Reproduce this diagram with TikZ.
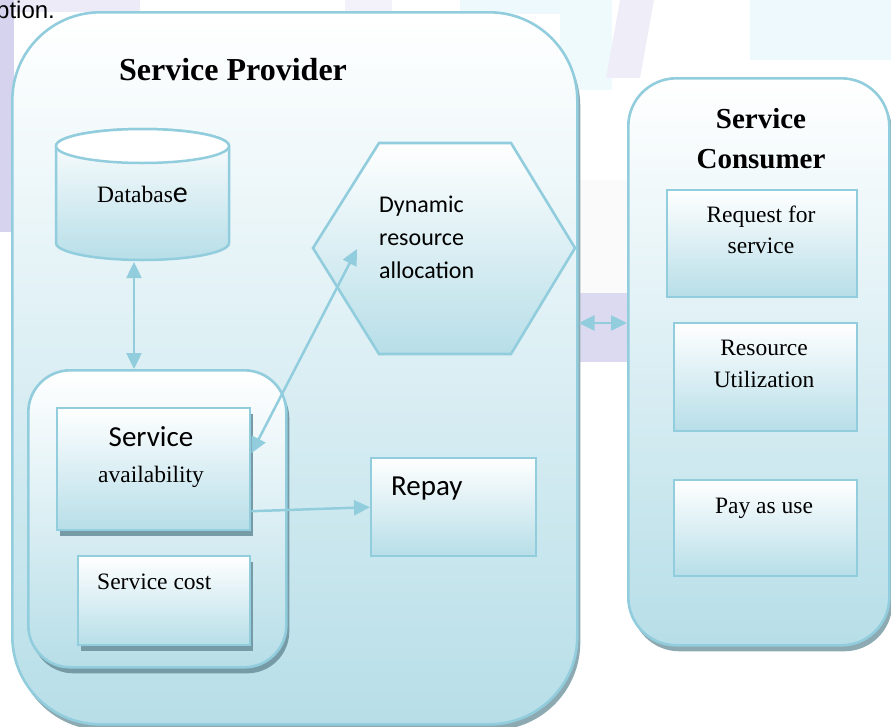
\documentclass[tikz,border=0pt]{standalone}
\usepackage{fontspec}
\setmainfont{Liberation Serif}
\newfontfamily\calibri{Carlito}
\newfontfamily\arial{Liberation Sans}
\usetikzlibrary{arrows.meta}

\definecolor{edgeblue}{RGB}{146,205,221}
\definecolor{deepfill}{RGB}{183,222,232}
\definecolor{panelshadow}{RGB}{141,170,178}
\definecolor{boxshadow}{RGB}{118,155,166}
\definecolor{lavender}{RGB}{214,211,238}
\definecolor{paleaqua}{RGB}{214,242,250}

\newcommand\serifbody{\fontsize{23.5}{28}\selectfont}
\newcommand\calbody{\calibri\fontsize{24}{29}\selectfont}
\newcommand\calbig{\calibri\fontsize{29}{34}\selectfont}

\begin{document}
\begin{tikzpicture}[x=1pt,y=-1pt,
  panel/.style={draw=edgeblue, line width=2.6pt, top color=white, bottom color=deepfill},
  plate/.style={panel, line width=2.4pt, rectangle, inner sep=0pt, anchor=north west},
  castshadow/.style={preaction={fill=#1, transform canvas={xshift=3pt, yshift=-6pt}}},
  castshadow/.default=panelshadow,
  link/.style={draw=edgeblue, line width=2.5pt, >={Triangle[length=16pt,width=15pt]}},
  lbl/.style={inner sep=0pt, anchor=base},
  lblw/.style={inner sep=0pt, anchor=base west},
]
\useasboundingbox (0,0) rectangle (891,726);

% faint backdrop
\fill[lavender] (0,0) rectangle (14,232);
\fill[lavender!45] (14,0) rectangle (140,12);
\fill[lavender!30] (345,0) rectangle (392,12);
\fill[paleaqua!45] (460,0) rectangle (570,14);
\fill[paleaqua!40] (560,0) rectangle (612,90);
\fill[lavender!40] (620,0) -- (654,0) -- (640,78) -- (606,78) -- cycle;
\fill[paleaqua!45] (750,0) rectangle (891,60);
\fill[black!2] (578,180) rectangle (627,293);
\fill[lavender!85] (578,293) rectangle (627,362);

% top-left fragment of running text
\node[lblw, font=\arial\fontsize{24}{28}\selectfont] (runtext) at (-4,18) {ption.};

% provider panel
\node[panel, castshadow, rectangle, rounded corners=88pt, inner sep=0pt,
      minimum width=565pt, minimum height=712pt, anchor=north west]
      (provider) at (11,11) {};
% consumer panel
\node[panel, castshadow, rectangle, rounded corners=48pt, inner sep=0pt,
      minimum width=261pt, minimum height=567pt, anchor=north west]
      (consumer) at (627,77) {};

% database cylinder
\shade[top color=white, bottom color=deepfill, draw=edgeblue, line width=2.5pt]
  (56,146) -- (56,243) arc[start angle=180, end angle=0, x radius=86.5, y radius=17]
  -- (229,146) arc[start angle=0, end angle=-180, x radius=86.5, y radius=17] -- cycle;
\draw[edgeblue, line width=2.5pt, fill=white] (142.5,146) ellipse[x radius=86.5, y radius=17];
\coordinate (dbfoot) at (134,262);
\node[lblw, font=\serifbody] (dblabel) at (97,202) {Databas{\calibri\fontsize{30}{34}\selectfont e}};

% service group
\node[panel, castshadow=boxshadow, rectangle, rounded corners=42pt, inner sep=0pt,
      minimum width=258pt, minimum height=297pt, anchor=north west]
      (group) at (27,369) {};
\node[plate, castshadow=boxshadow, minimum width=193pt, minimum height=122pt] (avail) at (56,407) {};
\node[plate, castshadow=boxshadow, minimum width=172pt, minimum height=89pt] (cost) at (77,555) {};

% hexagon
\shade[panel] (379,143) coordinate (hexnw) -- (511,143) -- (575,248) coordinate (hexe)
  -- (511,354) -- (379,354) -- (313,248) coordinate (hexw) -- cycle;
\coordinate (hexin) at (357,249);

% repay
\node[plate, minimum width=165pt, minimum height=98pt] (repay) at (370,457) {};

% consumer boxes
\node[plate, minimum width=190pt, minimum height=107pt] (request) at (666,189) {};
\node[plate, minimum width=183pt, minimum height=108pt] (usage) at (673,322) {};
\node[plate, minimum width=183pt, minimum height=96pt] (payuse) at (673,479) {};

% connectors
\draw[link, <->] (dbfoot) -- (dbfoot |- group.north);
\draw[link, <->] ([yshift=16pt]avail.east) -- (hexin);
\draw[link, ->] ([yshift=-42pt]avail.east) -- (repay.west);
\coordinate (bridge) at (602,323);
\draw[link, <->] (bridge -| provider.east) -- (bridge -| consumer.west);

% labels
\node[lbl, font=\bfseries\fontsize{32}{36}\selectfont] (provtitle) at (233,80) {Service Provider};
\node[lbl, font=\bfseries\fontsize{29}{34}\selectfont] (constitle1) at (761,128) {Service};
\node[lbl, font=\bfseries\fontsize{29}{34}\selectfont] (constitle2) at (761,168) {Consumer};

\node[lblw, font=\calbody] (hexl1) at (379,212) {Dynamic};
\node[lblw, font=\calbody] (hexl2) at (379,245) {resource};
\node[lblw, font=\calbody] (hexl3) at (379,278) {allocation};

\node[lbl, font=\calbig] (availl1) at (151,446) {Service};
\node[lbl, font=\serifbody] (availl2) at (151,482) {availability};
\node[lblw, font=\serifbody] (costl) at (97,589) {Service cost};
\node[lblw, font=\calbig] (repayl) at (391,495) {Repay};

\node[lbl, font=\serifbody] (reql1) at (761,222) {Request for};
\node[lbl, font=\serifbody] (reql2) at (761,253) {service};
\node[lbl, font=\serifbody] (usel1) at (764,355) {Resource};
\node[lbl, font=\serifbody] (usel2) at (764,387) {Utilization};
\node[lbl, font=\serifbody] (payl) at (764,513) {Pay as use};
\end{tikzpicture}
\end{document}
